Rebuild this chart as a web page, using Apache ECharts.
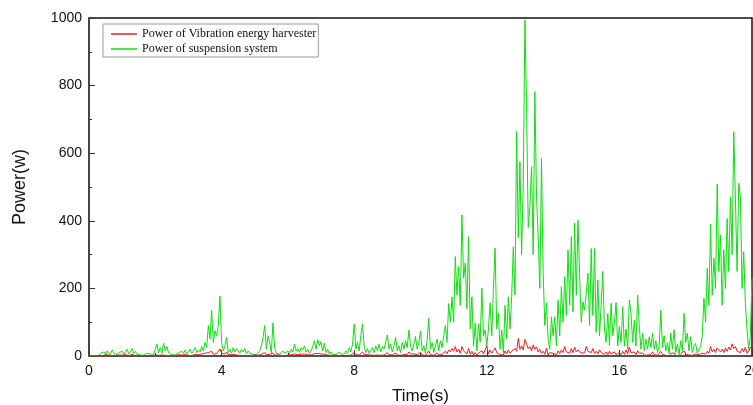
<!DOCTYPE html>
<html>
<head>
<meta charset="utf-8">
<script src="https://cdn.jsdelivr.net/npm/echarts@6/dist/echarts.min.js"></script>
<style>
  html, body { margin: 0; padding: 0; background: #fff; }
  #chart { width: 753px; height: 405px; }
</style>
</head>
<body>
<div id="chart"></div>
<script>
// sampled every 0.05 s, one row per second
var timeStep = 0.05;

var suspensionPower = [
  0, 0, 0, 0, 0, 0, 2, 8, 4, 12, 6, 15, 10, 5, 18, 8, 12, 4, 10, 6,
  14, 4, 8, 20, 6, 12, 22, 8, 14, 5, 10, 3, 6, 2, 4, 8, 3, 6, 2, 5,
  20, 35, 10, 25, 8, 38, 15, 28, 10, 6, 4, 8, 3, 6, 10, 5, 14, 8, 18, 6,
  12, 20, 8, 15, 25, 10, 18, 12, 28, 15, 40, 25, 90, 50, 135, 40, 75, 60, 90, 178,
  40, 15, 30, 55, 10, 20, 8, 25, 12, 22, 18, 8, 20, 12, 22, 6, 15, 8, 12, 5,
  10, 4, 8, 15, 30, 55, 90, 20, 60, 40, 10, 98, 25, 8, 12, 5, 10, 15, 8, 12,
  15, 8, 20, 12, 35, 15, 22, 10, 25, 18, 30, 12, 20, 8, 15, 28, 45, 20, 48, 30,
  42, 15, 38, 10, 20, 6, 12, 5, 10, 4, 8, 12, 5, 10, 6, 15, 8, 25, 12, 35,
  95, 20, 40, 15, 60, 95, 30, 10, 22, 8, 15, 25, 10, 30, 15, 35, 12, 28, 20, 40,
  62, 20, 35, 12, 30, 55, 15, 30, 10, 40, 20, 45, 25, 77, 30, 15, 35, 58, 20, 40,
  74, 15, 30, 8, 45, 112, 20, 40, 10, 30, 50, 15, 45, 25, 60, 90, 40, 155, 100, 175,
  100, 294, 180, 264, 150, 417, 230, 275, 140, 353, 80, 175, 30, 97, 15, 95, 40, 201, 60, 77,
  30, 80, 157, 60, 200, 319, 80, 127, 20, 77, 10, 150, 50, 175, 80, 175, 323, 180, 664, 350,
  575, 300, 511, 994, 728, 380, 442, 560, 300, 782, 471, 353, 200, 585, 245, 90, 157, 47, 20, 116,
  60, 116, 30, 165, 60, 205, 100, 235, 120, 314, 150, 353, 130, 393, 180, 402, 235, 100, 160, 136,
  186, 245, 90, 318, 120, 318, 70, 225, 60, 150, 250, 80, 40, 126, 30, 156, 60, 100, 158, 30,
  87, 40, 146, 30, 80, 20, 166, 126, 40, 106, 30, 180, 87, 20, 68, 15, 50, 20, 57, 25,
  68, 20, 45, 10, 30, 136, 25, 60, 15, 40, 8, 68, 20, 78, 10, 35, 5, 45, 15, 126,
  40, 68, 15, 57, 10, 30, 37, 8, 20, 27, 60, 171, 100, 259, 150, 390, 180, 289, 200, 508,
  250, 358, 150, 314, 200, 407, 250, 471, 300, 664, 462, 250, 511, 471, 200, 309, 156, 77, 20, 60,
  230
];

var harvesterPower = [
  0, 0, 0, 0, 1, 2, 1, 3, 1, 2, 4, 1, 3, 2, 1, 4, 2, 1, 3, 1,
  2, 1, 4, 2, 1, 3, 5, 2, 1, 3, 1, 2, 1, 0, 1, 2, 1, 3, 1, 2,
  3, 6, 2, 5, 3, 7, 2, 4, 1, 2, 1, 3, 1, 2, 4, 2, 3, 1, 4, 2,
  2, 4, 1, 3, 5, 2, 4, 3, 6, 3, 8, 4, 10, 6, 14, 5, 9, 7, 12, 21,
  8, 3, 6, 12, 4, 3, 5, 2, 4, 3, 2, 4, 1, 3, 2, 4, 1, 2, 1, 2,
  3, 1, 2, 3, 5, 8, 10, 4, 7, 5, 2, 9, 3, 2, 3, 1, 2, 3, 1, 2,
  3, 2, 4, 2, 6, 3, 4, 2, 5, 3, 6, 2, 4, 1, 3, 5, 7, 3, 8, 4,
  6, 2, 5, 2, 3, 1, 2, 1, 2, 1, 2, 3, 1, 2, 1, 3, 2, 4, 2, 5,
  11, 4, 6, 3, 8, 12, 5, 2, 4, 2, 3, 5, 2, 4, 3, 6, 2, 5, 3, 7,
  10, 4, 6, 3, 5, 9, 3, 5, 2, 7, 4, 8, 5, 12, 6, 3, 6, 10, 4, 7,
  11, 3, 6, 2, 8, 15, 4, 7, 2, 5, 9, 3, 8, 5, 10, 14, 7, 18, 12, 22,
  14, 28, 12, 20, 8, 28, 15, 18, 6, 22, 5, 14, 3, 10, 2, 8, 4, 16, 6, 9,
  30, 6, 18, 8, 16, 24, 10, 14, 4, 9, 3, 15, 6, 18, 8, 14, 12, 22, 14, 52,
  20, 30, 18, 49, 36, 22, 28, 15, 33, 20, 27, 12, 20, 8, 14, 5, 23, 3, 10, 6,
  8, 12, 4, 15, 7, 18, 10, 28, 12, 16, 8, 22, 10, 26, 12, 18, 14, 8, 12, 10,
  28, 14, 18, 10, 22, 8, 14, 6, 18, 10, 14, 5, 12, 4, 14, 6, 9, 12, 4, 6,
  10, 4, 14, 5, 18, 6, 26, 10, 5, 12, 4, 16, 8, 3, 9, 2, 6, 3, 8, 4,
  12, 4, 7, 2, 6, 14, 4, 8, 2, 6, 1, 8, 3, 9, 2, 5, 1, 7, 3, 15,
  6, 10, 3, 8, 2, 5, 6, 1, 4, 5, 8, 12, 6, 14, 8, 28, 12, 20, 10, 24,
  18, 12, 20, 10, 24, 14, 26, 18, 36, 22, 28, 14, 18, 10, 22, 12, 26, 8, 14, 26,
  20
];

var seriesNames = ['Power of Vibration energy harvester', 'Power of suspension system'];
var seriesColors = ['#ee1c1c', '#11dd11'];

function toPairs(values) {
  var out = [];
  for (var i = 0; i < values.length; i++) {
    out.push([+(i * timeStep).toFixed(2), values[i]]);
  }
  return out;
}

var chart = echarts.init(document.getElementById('chart'), null, { renderer: 'canvas' });

var axisFont = { fontFamily: 'Liberation Sans, Arial, sans-serif', fontSize: 14, color: '#111' };
var plainNumber = function (v) { return String(v); };

chart.setOption({
  animation: false,
  backgroundColor: '#fff',
  grid: {
    left: 89, right: 1, top: 18, bottom: 49,
    outerBoundsMode: 'none',
    containLabel: false,
    show: true,
    borderColor: '#111',
    borderWidth: 1.5
  },
  legend: {
    data: seriesNames,
    orient: 'vertical',
    left: 103,
    top: 24,
    padding: [3, 2, 1, 8],
    itemGap: 1,
    itemWidth: 26,
    itemHeight: 1.5,
    icon: 'rect',
    borderColor: '#999',
    borderWidth: 1,
    backgroundColor: '#fff',
    textStyle: {
      fontFamily: 'Liberation Serif, Times New Roman, serif',
      fontSize: 12,
      lineHeight: 14,
      color: '#111'
    }
  },
  xAxis: {
    type: 'value',
    min: 0,
    max: 20,
    interval: 4,
    name: 'Time(s)',
    nameLocation: 'middle',
    nameGap: 32,
    nameTextStyle: { fontFamily: 'Liberation Sans, Arial, sans-serif', fontSize: 17, color: '#111' },
    axisLine: { lineStyle: { color: '#555', width: 1.5 } },
    axisTick: { inside: true, length: 6, lineStyle: { color: '#333' } },
    minorTick: { show: true, splitNumber: 2, length: 3, lineStyle: { color: '#333' } },
    axisLabel: Object.assign({ margin: 8, formatter: plainNumber }, axisFont),
    splitLine: { show: false }
  },
  yAxis: {
    type: 'value',
    min: 0,
    max: 1000,
    interval: 200,
    name: 'Power(w)',
    nameLocation: 'middle',
    nameGap: 60,
    nameTextStyle: { fontFamily: 'Liberation Sans, Arial, sans-serif', fontSize: 18, color: '#111' },
    axisLine: { lineStyle: { color: '#444', width: 1.5 } },
    axisTick: { inside: true, length: 6, lineStyle: { color: '#333' } },
    minorTick: { show: true, splitNumber: 2, length: 3, lineStyle: { color: '#333' } },
    axisLabel: Object.assign({ margin: 7, formatter: plainNumber }, axisFont),
    splitLine: { show: false }
  },
  series: [
    {
      name: seriesNames[1],
      type: 'line',
      data: toPairs(suspensionPower),
      showSymbol: false,
      color: seriesColors[1],
      lineStyle: { width: 1, color: seriesColors[1] },
      z: 2
    },
    {
      name: seriesNames[0],
      type: 'line',
      data: toPairs(harvesterPower),
      showSymbol: false,
      color: seriesColors[0],
      lineStyle: { width: 1, color: seriesColors[0] },
      z: 3
    }
  ]
});
</script>
</body>
</html>
